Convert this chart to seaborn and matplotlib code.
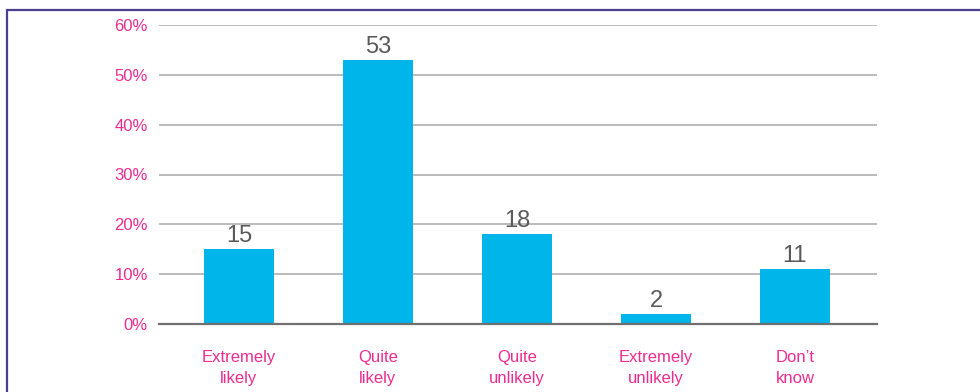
import matplotlib
matplotlib.use("Agg")
import matplotlib.pyplot as plt
import seaborn as sns
import pandas as pd
from matplotlib.patches import Rectangle

categories = ["Extremely\nlikely", "Quite\nlikely", "Quite\nunlikely", "Extremely\nunlikely", "Don\u2019t\nknow"]
values = [15, 53, 18, 2, 11]
yticks = [0, 10, 20, 30, 40, 50, 60]
ytick_labels = ["0%", "10%", "20%", "30%", "40%", "50%", "60%"]

sns.set_theme(style="white")
plt.rcParams['font.family'] = ['Liberation Sans', 'DejaVu Sans']

pink = "#EC2C8F"
bar_color = "#00B5EA"

df = pd.DataFrame({"cat": categories, "val": values})

fig = plt.figure(figsize=(9.8, 3.92), dpi=100)
ax = fig.add_axes([159/980, 1-324/392, (877-159)/980, (324-25)/392])

sns.barplot(data=df, x="cat", y="val", color=bar_color, width=0.505, saturation=1,
            linewidth=0, ax=ax, zorder=3)

ax.set_ylim(0, 60)
ax.set_xlim(-0.575, 4.59)
ax.set_yticks(yticks)
ax.set_yticklabels(ytick_labels)
ax.yaxis.grid(True, color="#B5B5B5", linewidth=1.3, zorder=0)
ax.set_axisbelow(True)
for s in ["top", "right", "left"]:
    ax.spines[s].set_visible(False)
ax.spines["bottom"].set_color("#707070")
ax.spines["bottom"].set_linewidth(1.6)
ax.spines["bottom"].set_zorder(4)
ax.set_xlabel("")
ax.set_ylabel("")
ax.tick_params(axis="y", length=0, pad=8, labelsize=12, labelcolor=pink)
ax.tick_params(axis="x", length=0, pad=19, labelsize=12, labelcolor=pink)
for lab in ax.get_xticklabels():
    lab.set_linespacing(1.45)

for i, v in enumerate(values):
    ax.text(i, v + 0.4, str(v), ha="center", va="bottom", fontsize=17, color="#5A5A5A")

fig.patches.append(Rectangle((7/980, -0.1), 1.2, 1 - 10/392 + 0.1, transform=fig.transFigure,
                             fill=False, edgecolor="#4B3F8F", linewidth=1.6, figure=fig))

fig.savefig("out.png", dpi=100)
